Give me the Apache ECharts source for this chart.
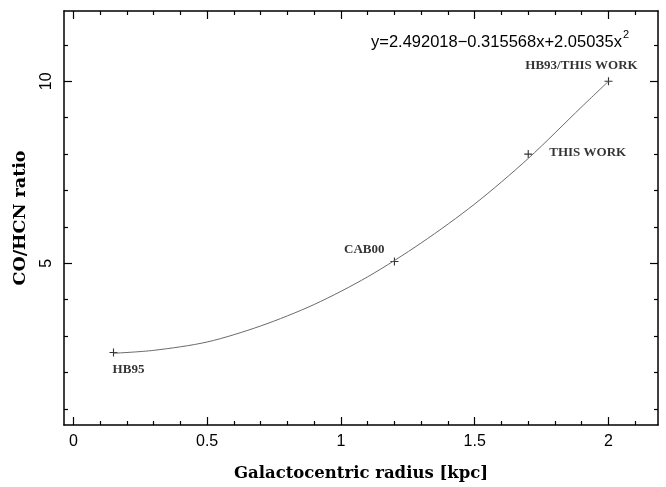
<!DOCTYPE html>
<html>
<head>
<meta charset="utf-8">
<script src="https://cdn.jsdelivr.net/npm/echarts@6/dist/echarts.min.js"></script>
<style>
  html, body { margin: 0; padding: 0; background: #fff; }
  #main { width: 666px; height: 487px; }
</style>
</head>
<body>
<div id="main"></div>
<script>
// measured points (radius kpc, CO/HCN ratio) and their labels
var pointX = [0.15, 1.2, 1.7, 2.0];
var pointY = [2.55, 5.05, 8.0, 10.0];
var pointNames = ['HB95', 'CAB00', 'THIS WORK', 'HB93/THIS WORK'];

// fitted curve
var curveX = [0.15, 0.3, 0.5, 0.7, 0.9, 1.1, 1.3, 1.5, 1.7, 1.9, 2.0];
var curveY = [2.53, 2.61, 2.84, 3.28, 3.87, 4.63, 5.56, 6.63, 7.88, 9.30, 10.0];

var xMajor = [0, 0.5, 1, 1.5, 2];
var xMinor = [0.1, 0.2, 0.3, 0.4, 0.6, 0.7, 0.8, 0.9, 1.1, 1.2, 1.3, 1.4, 1.6, 1.7, 1.8, 1.9, 2.1];
var yMajor = [5, 10];
var yMinor = [1, 2, 3, 4, 6, 7, 8, 9, 11];

var chart = echarts.init(document.getElementById('main'));

var serif = 'DejaVu Serif';
var sans = 'Liberation Sans';

function makeAxis(pos, min, max, ticks, len, withLine, labels, rot) {
  return {
    type: 'value',
    position: pos,
    min: min,
    max: max,
    axisLine: { show: withLine, onZero: false, lineStyle: { color: '#000', width: 1.5 } },
    axisTick: { show: true, inside: true, length: len, customValues: ticks,
      lineStyle: { color: '#000', width: 1.2 } },
    axisLabel: labels ? {
      show: true, customValues: labels, color: '#000', fontFamily: sans,
      fontSize: 16, margin: 9, rotate: rot || 0
    } : { show: false },
    splitLine: { show: false }
  };
}

var xAxes = [
  makeAxis('bottom', -0.035, 2.185, xMajor, 8, true, xMajor),
  makeAxis('bottom', -0.035, 2.185, xMinor, 4, false),
  makeAxis('top', -0.035, 2.185, xMajor, 8, true),
  makeAxis('top', -0.035, 2.185, xMinor, 4, false)
];
xAxes[0].name = 'Galactocentric radius [kpc]';
xAxes[0].nameLocation = 'middle';
xAxes[0].nameGap = 40;
xAxes[0].nameTextStyle = { fontFamily: serif, fontWeight: 'bold', fontSize: 16.5, color: '#000' };

var yAxes = [
  makeAxis('left', 0.56, 11.93, yMajor, 8, true, yMajor, 90),
  makeAxis('left', 0.56, 11.93, yMinor, 4, false),
  makeAxis('right', 0.56, 11.93, yMajor, 8, true),
  makeAxis('right', 0.56, 11.93, yMinor, 4, false)
];
yAxes[0].name = 'CO/HCN ratio';
yAxes[0].nameLocation = 'middle';
yAxes[0].nameGap = 35;
yAxes[0].nameTextStyle = { fontFamily: serif, fontWeight: 'bold', fontSize: 17.5, color: '#000' };

// label placement for each point
var labelPos = [
  { position: 'bottom', offset: [15, 2] },
  { position: 'left', offset: [-1, -12] },
  { position: 'right', offset: [12, -1] },
  { position: 'top', offset: [-27, 0] }
];

var points = pointX.map(function (x, i) {
  return {
    value: [x, pointY[i]],
    label: {
      show: true,
      formatter: pointNames[i],
      position: labelPos[i].position,
      offset: labelPos[i].offset,
      fontFamily: 'Liberation Serif',
      fontWeight: 'bold',
      fontSize: 13,
      color: '#000'
    }
  };
});

var option = {
  backgroundColor: '#ffffff',
  animation: false,
  grid: { left: 64, right: 8, top: 11, bottom: 61, containLabel: false },
  xAxis: xAxes,
  yAxis: yAxes,
  graphic: [{
    type: 'text',
    left: 371,
    top: 29,
    style: {
      text: '{a|y=2.492018\u22120.315568x+2.05035x}{s|2}',
      rich: {
        a: { fontFamily: sans, fontSize: 16.5, fill: '#000', verticalAlign: 'bottom', height: 20 },
        s: { fontFamily: sans, fontSize: 11, fill: '#000', verticalAlign: 'top', padding: [0, 0, 12, 1] }
      }
    }
  }],
  series: [
    {
      type: 'line',
      xAxisIndex: 0,
      yAxisIndex: 0,
      smooth: 0.3,
      showSymbol: false,
      silent: true,
      lineStyle: { color: '#6a6a6a', width: 1 },
      data: curveX.map(function (x, i) { return [x, curveY[i]]; })
    },
    {
      type: 'scatter',
      xAxisIndex: 0,
      yAxisIndex: 0,
      symbol: 'path://M0,4.3h10v1.4h-10z M4.3,0h1.4v10h-1.4z',
      symbolSize: 8,
      itemStyle: { color: '#000' },
      data: points
    }
  ]
};

chart.setOption(option);
</script>
</body>
</html>
